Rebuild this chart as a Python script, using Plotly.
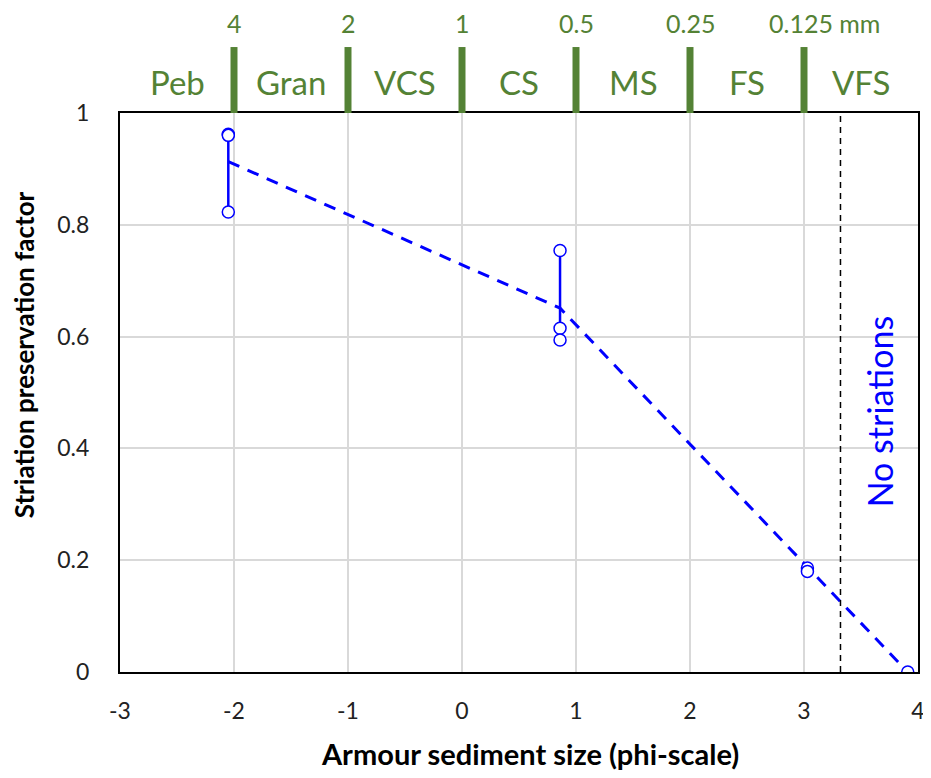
import plotly.graph_objects as go

# Data
phi = [-2.05, -2.05, -2.05, 0.86, 0.86, 0.86, 3.03, 3.03, 3.91]
spf = [0.962, 0.960, 0.823, 0.754, 0.615, 0.594, 0.186, 0.180, 0.0]
range_x = [-2.05, 0.86]
range_lo = [0.823, 0.615]
range_hi = [0.962, 0.754]
trend_x = [-2.05, 0.86, 3.91]
trend_y = [0.913, 0.651, 0.0]
size_phi = [-2, -1, 0, 1, 2, 3]
size_mm = ["4", "2", "1", "0.5", "0.25", "0.125 mm"]
class_names = ["Peb", "Gran", "VCS", "CS", "MS", "FS", "VFS"]
class_centers = [-2.5, -1.5, -0.5, 0.5, 1.5, 2.5, 3.5]
x_ticks = [-3, -2, -1, 0, 1, 2, 3, 4]
x_ticktext = ["-3", "-2", "-1", "0", "1", "2", "3", "4"]
y_ticks = [0, 0.2, 0.4, 0.6, 0.8, 1]
y_ticktext = ["0", "0.2", "0.4", "0.6", "0.8", "1"]
cutoff_phi = 3.32

BLUE = "#0000FF"
GREEN = "#548235"
FONT = "Lato, Open Sans, sans-serif"

fig = go.Figure()

# range bars
for x, lo, hi in zip(range_x, range_lo, range_hi):
    fig.add_trace(go.Scatter(x=[x, x], y=[lo, hi], mode="lines",
                             line=dict(color=BLUE, width=2.5), showlegend=False, hoverinfo="skip"))

# trend line
fig.add_trace(go.Scatter(x=trend_x, y=trend_y, mode="lines",
                         line=dict(color=BLUE, width=3, dash="12px,9px"), showlegend=False))

# points
fig.add_trace(go.Scatter(x=phi, y=spf, mode="markers",
                         marker=dict(symbol="circle", size=12, color="white",
                                     line=dict(color=BLUE, width=1.5)),
                         showlegend=False))

# cutoff line
fig.add_shape(type="line", xref="x", yref="y", x0=cutoff_phi, x1=cutoff_phi, y0=0, y1=1,
              line=dict(color="black", width=1.5, dash="6px,5px"))

# green tick marks on top
for p in size_phi:
    fig.add_shape(type="line", xref="x", yref="paper", x0=p, x1=p, y0=1.0, y1=1.118,
                  line=dict(color=GREEN, width=7))

for p, lab in zip(size_phi, size_mm):
    is_mm = lab.endswith("mm")
    fig.add_annotation(x=p, y=1.161, xref="x", yref="paper", text=lab, showarrow=False,
                       xanchor="left" if is_mm else "center",
                       xshift=-37 if is_mm else 0,
                       yanchor="middle", font=dict(family=FONT, size=25, color=GREEN))

for c, lab in zip(class_centers, class_names):
    fig.add_annotation(x=c, y=1.055, xref="x", yref="paper", text=lab, showarrow=False,
                       xanchor="center", yanchor="middle",
                       font=dict(family=FONT, size=33, color=GREEN))

fig.add_annotation(x=3.66, y=0.465, xref="x", yref="y", text="No striations", showarrow=False,
                   textangle=-90, font=dict(family=FONT, size=34, color=BLUE))

# axis titles
fig.add_annotation(x=0.514, y=-0.146, xref="paper", yref="paper", showarrow=False,
                   text="<b>Armour sediment size (phi-scale)</b>", xanchor="center", yanchor="middle",
                   font=dict(family=FONT, size=29, color="black"))
fig.add_annotation(x=-0.12, y=0.567, xref="paper", yref="paper", showarrow=False, textangle=-90,
                   text="<b>Striation preservation factor</b>", xanchor="center", yanchor="middle",
                   font=dict(family=FONT, size=26, color="black"))

fig.update_layout(
    width=920, height=762,
    margin=dict(l=112, r=10, t=105, b=98),
    plot_bgcolor="white", paper_bgcolor="white",
    font=dict(family=FONT, size=23, color="#222"),
    xaxis=dict(range=[-3, 4], tickvals=x_ticks, ticktext=x_ticktext,
               showgrid=True, gridcolor="#d9d9d9", gridwidth=1.5,
               zeroline=False, showline=True, linecolor="black", linewidth=2, mirror=True,
               ticks="", ticklabelstandoff=17, automargin=False, ticklabeloverflow="allow"),
    yaxis=dict(range=[0, 1], tickvals=y_ticks, ticktext=y_ticktext,
               showgrid=True, gridcolor="#d9d9d9", gridwidth=1.5,
               zeroline=False, showline=True, linecolor="black", linewidth=2, mirror=True,
               ticks="", ticklabelstandoff=24, automargin=False, ticklabeloverflow="allow"),
)

fig.write_html("out.html")
